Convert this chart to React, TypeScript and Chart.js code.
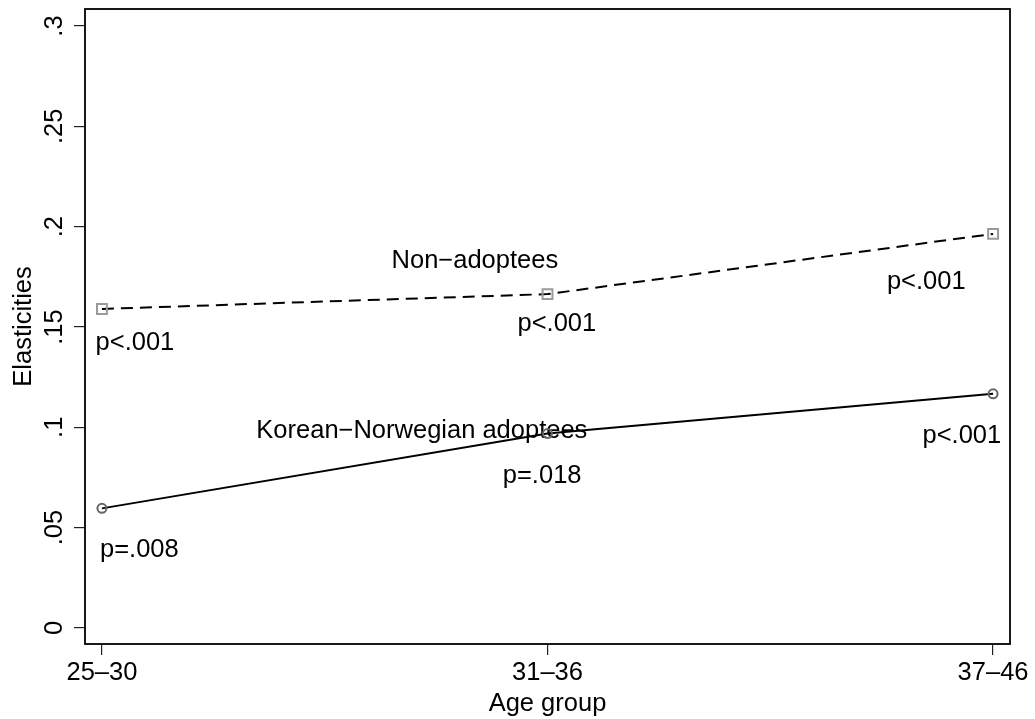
import React, { useEffect, useRef } from "react";
import { Chart, registerables } from "chart.js";

Chart.register(...registerables);

const categories = ["25–30", "31–36", "37–46"];
const nonAdoptees = [0.159, 0.1664, 0.1964];
const adoptees = [0.0596, 0.0969, 0.1167];
const yTicks = [0, 0.05, 0.1, 0.15, 0.2, 0.25, 0.3];
const yTickLabels = ["0", ".05", ".1", ".15", ".2", ".25", ".3"];

const noteTexts = [
  "Non−adoptees",
  "p<.001",
  "p<.001",
  "p<.001",
  "Korean−Norwegian adoptees",
  "p=.008",
  "p=.018",
  "p<.001",
];
const noteX = [0.837, 0.074, 1.021, 1.85, 0.718, 0.084, 0.988, 1.93];
const noteY = [0.183, 0.142, 0.1515, 0.1724, 0.0984, 0.0387, 0.076, 0.0959];

const FONT = '"Liberation Sans", Arial, Helvetica, sans-serif';
const FS = 25.5;

export default function App() {
  const ref = useRef<HTMLCanvasElement>(null);

  useEffect(() => {
    if (!ref.current) return;

    const framePlugin = {
      id: "frame",
      beforeDatasetsDraw(chart: any) {
        const { ctx, scales } = chart;
        ctx.save();
        ctx.fillStyle = "#000";
        ctx.font = `${FS}px ${FONT}`;
        ctx.textAlign = "center";
        ctx.textBaseline = "middle";
        noteTexts.forEach((t, i) => {
          ctx.fillText(t, scales.x.getPixelForValue(noteX[i]), scales.y.getPixelForValue(noteY[i]));
        });
        ctx.restore();
      },
      afterDraw(chart: any) {
        const { ctx, chartArea: a, scales } = chart;
        ctx.save();
        ctx.strokeStyle = "#000";
        ctx.lineWidth = 1.8;
        ctx.strokeRect(a.left, a.top, a.right - a.left, a.bottom - a.top);
        ctx.fillStyle = "#000";
        ctx.font = `${FS}px ${FONT}`;
        ctx.textAlign = "center";
        ctx.textBaseline = "middle";
        yTicks.forEach((v, i) => {
          const py = scales.y.getPixelForValue(v);
          ctx.save();
          ctx.translate(a.left - 30, py);
          ctx.rotate(-Math.PI / 2);
          ctx.fillText(yTickLabels[i], 0, 0);
          ctx.restore();
        });
        ctx.restore();
      },
    };

    const font = { family: FONT, size: FS };

    const chart = new Chart(ref.current, {
      type: "line",
      data: {
        datasets: [
          {
            label: "Non-adoptees",
            data: nonAdoptees.map((v, i) => ({ x: i, y: v })),
            borderColor: "#000",
            borderWidth: 2,
            borderDash: [12, 7],
            pointStyle: "rect",
            pointRadius: 7,
            pointBorderColor: "#9a9a9a",
            pointBackgroundColor: "rgba(0,0,0,0)",
            pointBorderWidth: 2,
            tension: 0,
          },
          {
            label: "Korean-Norwegian adoptees",
            data: adoptees.map((v, i) => ({ x: i, y: v })),
            borderColor: "#000",
            borderWidth: 2,
            pointStyle: "circle",
            pointRadius: 4.5,
            pointBorderColor: "#666",
            pointBackgroundColor: "rgba(0,0,0,0)",
            pointBorderWidth: 2,
            tension: 0,
          },
        ],
      },
      options: {
        animation: false,
        responsive: true,
        maintainAspectRatio: false,
        layout: { padding: { left: 0, top: 7, right: 25, bottom: 0 } },
        plugins: {
          legend: { display: false },
          tooltip: { enabled: false },
          title: { display: false },
        },
        scales: {
          x: {
            type: "linear",
            min: -0.038,
            max: 2.038,
            afterBuildTicks: (s: any) => {
              s.ticks = categories.map((_, i) => ({ value: i }));
            },
            ticks: {
              callback: (_v: any, i: number) => categories[i],
              font,
              color: "#000",
              padding: 3,
              maxRotation: 0,
              minRotation: 0,
              autoSkip: false,
            },
            grid: {
              drawOnChartArea: false,
              drawTicks: true,
              tickLength: 11,
              color: "#222",
              lineWidth: 1.2,
            },
            border: { display: false },
            title: {
              display: true,
              text: "Age group",
              font,
              color: "#000",
              padding: { top: 4, bottom: 0 },
            },
            afterFit: (s: any) => {
              s.height = 75;
            },
          },
          y: {
            type: "linear",
            min: -0.008,
            max: 0.3085,
            afterBuildTicks: (s: any) => {
              s.ticks = yTicks.map((v) => ({ value: v }));
            },
            ticks: { display: false },
            grid: {
              drawOnChartArea: false,
              drawTicks: true,
              tickLength: 11,
              color: "#222",
              lineWidth: 1.2,
            },
            border: { display: false },
            title: {
              display: true,
              text: "Elasticities",
              font,
              color: "#000",
              padding: { top: 9, bottom: 0 },
            },
            afterFit: (s: any) => {
              s.width = 85;
            },
          },
        },
      },
      plugins: [framePlugin],
    } as any);

    return () => chart.destroy();
  }, []);

  return (
    <div style={{ position: "absolute", left: 0, top: 0, width: 1035, height: 719, background: "#fff" }}>
      <canvas ref={ref} />
    </div>
  );
}
